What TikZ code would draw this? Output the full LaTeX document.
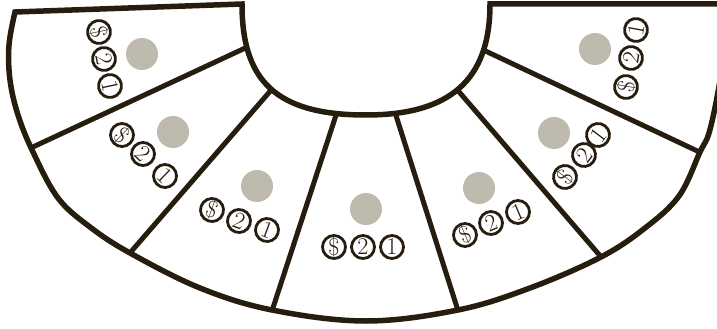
\documentclass[tikz,border=0pt]{standalone}
\usepackage{tikz}
\definecolor{railbrown}{RGB}{38,29,15}
\definecolor{betspot}{RGB}{190,186,174}
\newcommand{\tableshape}{(15,12) -- (242,4) .. controls (242,80) and (275,115) .. (366,115) .. controls (450,115) and (490,80) .. (490,4) -- (724,4) -- plot[smooth,tension=.6] coordinates {(724,4) (724,50) (718,92) (709,133) (700,152) (679,196) (645,228) (601,257) (530,288) (458,310) (366,321) (272,310) (200,288) (130,253) (90,227) (58,198) (33,152) (18,115) (10,80) (9,45) (15,12)} -- cycle}

\begin{document}
\begin{tikzpicture}[x=1pt,y=-1pt,
                  rail/.style={draw=railbrown,line width=5.5pt},
                  spoke/.style={draw=railbrown,line width=5pt},
                  spot/.style={circle,fill=betspot,minimum size=32pt,inner sep=0pt},
                  chip/.style={circle,draw=railbrown,fill=white,line width=2.8pt,minimum size=23pt,inner sep=0pt,text=railbrown,font=\fontsize{24}{24}\selectfont}
                ]
                \useasboundingbox (0,0) rectangle (717,329);
                \clip (0,0) rectangle (717,329);

                \begin{scope}
                \clip \tableshape;
                \draw[spoke] (256,43) -- (20,153);
                \draw[spoke] (279,81) -- (123,261);
                \draw[spoke] (340,103) -- (269,320);
                \draw[spoke] (392,103) -- (461,320);
                \draw[spoke] (448,79) -- (608,265);
                \draw[spoke] (477,47) -- (710,157);
                \end{scope}
                \draw[rail] \tableshape;

                \node[spot] (bet1) at (142,54) {};
                \node[chip,rotate=-78] (dollar1) at (99,32) {\$};
                \node[chip,rotate=-78] (two1) at (104,59) {2};
                \node[chip,rotate=-78] (one1) at (110,86) {1};

                \node[spot] (bet2) at (173,132) {};
                \node[chip,rotate=-44] (dollar2) at (122,135) {\$};
                \node[chip,rotate=-44] (two2) at (143,154) {2};
                \node[chip,rotate=-44] (one2) at (165,176) {1};

                \node[spot] (bet3) at (257,186) {};
                \node[chip,rotate=-20] (dollar3) at (212,210) {\$};
                \node[chip,rotate=-20] (two3) at (239,221) {2};
                \node[chip,rotate=-20] (one3) at (267,230) {1};

                \node[spot] (bet4) at (366,209) {};
                \node[chip] (dollar4) at (334,247) {\$};
                \node[chip] (two4) at (363,247) {2};
                \node[chip] (one4) at (392,247) {1};

                \node[spot] (bet5) at (479,188) {};
                \node[chip,rotate=23] (dollar5) at (465,235) {\$};
                \node[chip,rotate=23] (two5) at (491,223) {2};
                \node[chip,rotate=23] (one5) at (518,212) {1};

                \node[spot] (bet6) at (554,133) {};
                \node[chip,rotate=53] (dollar6) at (565,177) {\$};
                \node[chip,rotate=53] (two6) at (584,155) {2};
                \node[chip,rotate=53] (one6) at (598,135) {1};

                \node[spot] (bet7) at (595,49) {};
                \node[chip,rotate=80] (dollar7) at (626,87) {\$};
                \node[chip,rotate=80] (two7) at (631,58) {2};
                \node[chip,rotate=80] (one7) at (636,30) {1};
                \end{tikzpicture}
\end{document}
